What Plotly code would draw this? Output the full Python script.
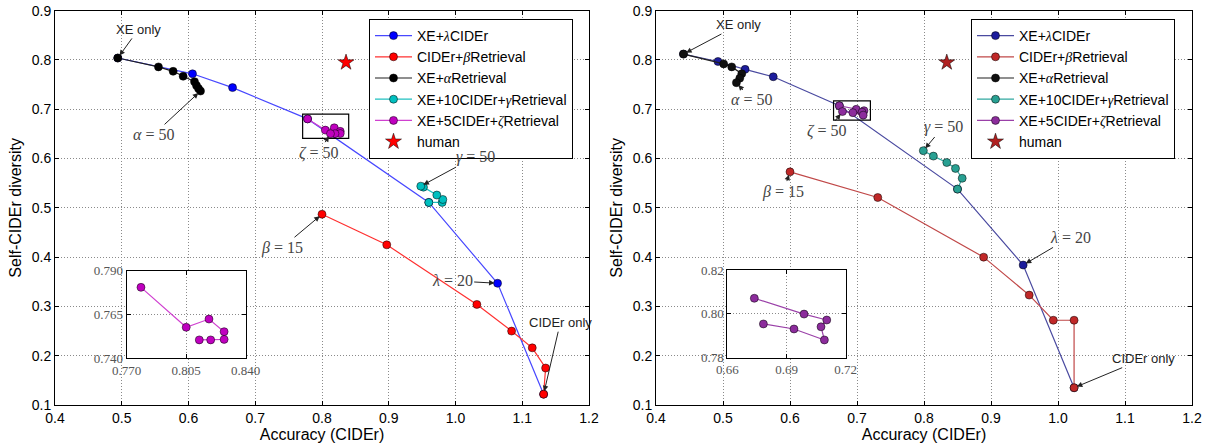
import plotly.graph_objects as go

# ---------------- data: left panel ----------------
L_lambda_x = [0.494, 0.606, 0.666, 0.7784, 0.960, 1.063, 1.132]
L_lambda_y = [0.804, 0.772, 0.744, 0.6805, 0.511, 0.347, 0.122]
L_beta_x = [1.132, 1.135, 1.115, 1.084, 1.032, 0.897, 0.800]
L_beta_y = [0.122, 0.175, 0.216, 0.250, 0.304, 0.425, 0.487]
L_alpha_x = [0.494, 0.555, 0.577, 0.592, 0.609, 0.612, 0.615, 0.618]
L_alpha_y = [0.804, 0.786, 0.777, 0.767, 0.756, 0.748, 0.742, 0.737]
L_gamma_x = [0.960, 0.980, 0.981, 0.972, 0.952, 0.948]
L_gamma_y = [0.511, 0.511, 0.517, 0.526, 0.542, 0.544]
L_zeta_x = [0.7784, 0.8050, 0.8184, 0.8273, 0.8273, 0.8194, 0.8127]
L_zeta_y = [0.6805, 0.6577, 0.6624, 0.6552, 0.6508, 0.6505, 0.6505]
L_human_x = [0.836]
L_human_y = [0.795]
# zoomed view of the zeta sweep
L_inset_x = [0.7784, 0.8050, 0.8184, 0.8273, 0.8273, 0.8194, 0.8127]
L_inset_y = [0.7805, 0.7577, 0.7624, 0.7552, 0.7508, 0.7505, 0.7505]
L_inset_xticks = [0.770, 0.805, 0.840]
L_inset_yticks = [0.740, 0.765, 0.790]
L_zoom_box = (0.771, 0.840, 0.641, 0.690)

# ---------------- data: right panel ----------------
R_lambda_x = [0.441, 0.4925, 0.533, 0.575, 0.6737, 0.850, 0.948, 1.024]
R_lambda_y = [0.812, 0.797, 0.781, 0.766, 0.7071, 0.538, 0.384, 0.135]
R_beta_x = [1.024, 1.024, 0.993, 0.957, 0.889, 0.731, 0.600]
R_beta_y = [0.135, 0.272, 0.272, 0.323, 0.400, 0.521, 0.573]
R_alpha_x = [0.441, 0.501, 0.513, 0.528, 0.525, 0.520]
R_alpha_y = [0.812, 0.792, 0.786, 0.772, 0.763, 0.754]
R_gamma_x = [0.850, 0.857, 0.847, 0.834, 0.814, 0.799]
R_gamma_y = [0.538, 0.560, 0.580, 0.592, 0.605, 0.616]
R_zeta_x = [0.6737, 0.6989, 0.7104, 0.7075, 0.7092, 0.6938, 0.6783]
R_zeta_y = [0.7071, 0.6999, 0.6972, 0.6941, 0.6881, 0.6931, 0.6954]
R_human_x = [0.834]
R_human_y = [0.795]
R_inset_x = [0.6737, 0.6989, 0.7104, 0.7075, 0.7092, 0.6938, 0.6783]
R_inset_y = [0.8071, 0.7999, 0.7972, 0.7941, 0.7881, 0.7931, 0.7954]
R_inset_xticks = [0.66, 0.69, 0.72]
R_inset_yticks = [0.78, 0.80, 0.82]
R_zoom_box = (0.665, 0.720, 0.678, 0.717)

main_ticks = [0.4, 0.5, 0.6, 0.7, 0.8, 0.9, 1.0, 1.1, 1.2]
main_yticks = [0.1, 0.2, 0.3, 0.4, 0.5, 0.6, 0.7, 0.8, 0.9]

SANS = "Liberation Sans"
SERIF = "Liberation Serif"


def greek(ch):
    return f'<span style="font-family:{SERIF}"><i>{ch}</i></span>'


names = [
    "XE+" + greek("λ") + "CIDEr",
    "CIDEr+" + greek("β") + "Retrieval",
    "XE+" + greek("α") + "Retrieval",
    "XE+10CIDEr+" + greek("γ") + "Retrieval",
    "XE+5CIDEr+" + greek("ζ") + "Retrieval",
    "human",
]

left_colors = dict(line=["#4848ff", "#ff3030", "#202020", "#20c0c0", "#d040d0"],
                   mark=["#0000ff", "#ff0000", "#000000", "#00bfbf", "#bf00bf"],
                   star="#ff0000")
right_colors = dict(line=["#4a4aa0", "#c04848", "#202020", "#30a8a0", "#9a40a8"],
                    mark=["#1c1c9c", "#c02828", "#101010", "#28a092", "#8c2c9c"],
                    star="#b02020")

fig = go.Figure()


def add_panel(series, human, colors, xa, ya, legend):
    for i, (xs, ys) in enumerate(series):
        fig.add_trace(go.Scatter(
            x=xs, y=ys, mode="lines+markers", name=names[i],
            xaxis=xa, yaxis=ya, legend=legend,
            line=dict(color=colors["line"][i], width=1.2),
            marker=dict(color=colors["mark"][i], size=8,
                        line=dict(color="#000000", width=0.5)),
        ))
    fig.add_trace(go.Scatter(
        x=human[0], y=human[1], mode="markers", name=names[5],
        xaxis=xa, yaxis=ya, legend=legend,
        marker=dict(symbol="star", color=colors["star"], size=12,
                    line=dict(color="#000000", width=0.5)),
    ))


add_panel([(L_lambda_x, L_lambda_y), (L_beta_x, L_beta_y), (L_alpha_x, L_alpha_y),
           (L_gamma_x, L_gamma_y), (L_zeta_x, L_zeta_y)],
          (L_human_x, L_human_y), left_colors, "x", "y", "legend")
add_panel([(R_lambda_x, R_lambda_y), (R_beta_x, R_beta_y), (R_alpha_x, R_alpha_y),
           (R_gamma_x, R_gamma_y), (R_zeta_x, R_zeta_y)],
          (R_human_x, R_human_y), right_colors, "x2", "y2", "legend2")

# inset traces
fig.add_trace(go.Scatter(x=L_inset_x, y=L_inset_y, mode="lines+markers", showlegend=False,
                         xaxis="x3", yaxis="y3",
                         line=dict(color=left_colors["line"][4], width=1.2),
                         marker=dict(color=left_colors["mark"][4], size=8,
                                     line=dict(color="#000000", width=0.5))))
fig.add_trace(go.Scatter(x=R_inset_x, y=R_inset_y, mode="lines+markers", showlegend=False,
                         xaxis="x4", yaxis="y4",
                         line=dict(color=right_colors["line"][4], width=1.2),
                         marker=dict(color=right_colors["mark"][4], size=8,
                                     line=dict(color="#000000", width=0.5))))

W, H = 1205, 444
GRID = dict(showgrid=True, gridcolor="#8a8a8a", gridwidth=1, griddash="1px,2px",
            zeroline=False, showline=True, linecolor="#000000", linewidth=1,
            mirror="allticks", ticks="inside", ticklen=4, tickcolor="#000000",
            automargin=False)


def px_x(a, b):
    return [a / W, b / W]


def px_y(top, bottom):
    return [1 - bottom / H, 1 - top / H]


def main_x(domain, anchor):
    return dict(GRID, domain=domain, anchor=anchor, range=[0.4, 1.2],
                tickvals=main_ticks, tickformat=".1f",
                tickfont=dict(family=SANS, size=14, color="#000000"),
                title=dict(text="Accuracy (CIDEr)", standoff=4,
                           font=dict(family=SANS, size=16, color="#000000")))


def main_y(domain, anchor):
    return dict(GRID, domain=domain, anchor=anchor, range=[0.1, 0.9],
                tickvals=main_yticks, tickformat=".1f",
                tickfont=dict(family=SANS, size=14, color="#000000"),
                title=dict(text="Self-CIDEr diversity", standoff=6,
                           font=dict(family=SANS, size=16, color="#000000")))


def inset_axis(domain, anchor, rng, ticks, fmt):
    return dict(GRID, domain=domain, anchor=anchor, range=rng, tickvals=ticks,
                tickformat=fmt,
                tickfont=dict(family=SERIF, size=13, color="#555555"))


main_ydom = px_y(10.7, 405)
fig.update_layout(
    xaxis=main_x(px_x(55, 589), "y"),
    yaxis=main_y(main_ydom, "x"),
    xaxis2=main_x(px_x(656, 1192), "y2"),
    yaxis2=main_y(main_ydom, "x2"),
    xaxis3=inset_axis(px_x(126.7, 245.7), "y3", [0.770, 0.840], L_inset_xticks, ".3f"),
    yaxis3=inset_axis(px_y(270.7, 358.3), "x3", [0.740, 0.790], L_inset_yticks, ".3f"),
    xaxis4=inset_axis(px_x(727.3, 845.7), "y4", [0.66, 0.72], R_inset_xticks, ".2f"),
    yaxis4=inset_axis(px_y(270, 357.7), "x4", [0.78, 0.82], R_inset_yticks, ".2f"),
)

legend_style = dict(xanchor="left", yanchor="top", bgcolor="#ffffff",
                    bordercolor="#000000", borderwidth=1, itemwidth=37,
                    font=dict(family=SANS, size=14, color="#000000"),
                    traceorder="normal")
fig.update_layout(
    legend=dict(legend_style, x=369 / W, y=1 - 19 / H),
    legend2=dict(legend_style, x=971 / W, y=1 - 19 / H),
)

shapes = []
for (x0, x1, y0, y1), xr, yr in [(L_zoom_box, "x", "y"), (R_zoom_box, "x2", "y2")]:
    shapes.append(dict(type="rect", xref=xr, yref=yr, x0=x0, x1=x1, y0=y0, y1=y1,
                       line=dict(color="#000000", width=1.2), fillcolor="rgba(0,0,0,0)"))
# white backing for the insets so the main grid does not show through
for xr, yr, xs, ys in [("x3", "y3", [0.770, 0.840], [0.740, 0.790]),
                       ("x4", "y4", [0.66, 0.72], [0.78, 0.82])]:
    shapes.append(dict(type="rect", xref=xr, yref=yr, x0=xs[0], x1=xs[1], y0=ys[0], y1=ys[1],
                       layer="below", line=dict(width=0), fillcolor="#ffffff"))

# labels with arrows: (text, text x, text y, head x, head y, serif?)
L_labels = [
    ("XE only", 0.525, 0.862, L_alpha_x[0], L_alpha_y[0], False),
    ("<i>α</i> = 50", 0.548, 0.649, L_alpha_x[-1], L_alpha_y[-1], True),
    ("<i>ζ</i> = 50", 0.795, 0.612, L_zeta_x[-1], L_zeta_y[-1], True),
    ("<i>γ</i> = 50", 1.030, 0.604, L_gamma_x[-1], L_gamma_y[-1], True),
    ("<i>β</i> = 15", 0.740, 0.419, L_beta_x[-1], L_beta_y[-1], True),
    ("<i>λ</i> = 20", 0.995, 0.352, L_lambda_x[5], L_lambda_y[5], True),
    ("CIDEr only", 1.157, 0.267, L_beta_x[0], L_beta_y[0], False),
]
R_labels = [
    ("XE only", 0.523, 0.871, R_alpha_x[0], R_alpha_y[0], False),
    ("<i>α</i> = 50", 0.543, 0.719, R_alpha_x[-1], R_alpha_y[-1], True),
    ("<i>ζ</i> = 50", 0.655, 0.655, R_zeta_x[-1], R_zeta_y[-1], True),
    ("<i>γ</i> = 50", 0.829, 0.665, R_gamma_x[-1], R_gamma_y[-1], True),
    ("<i>β</i> = 15", 0.590, 0.533, R_beta_x[-1], R_beta_y[-1], True),
    ("<i>λ</i> = 20", 1.018, 0.440, R_lambda_x[6], R_lambda_y[6], True),
    ("CIDEr only", 1.128, 0.194, R_beta_x[0], R_beta_y[0], False),
]

annotations = []
for labels, xr, yr in [(L_labels, "x", "y"), (R_labels, "x2", "y2")]:
    for text, tx, ty, hx, hy, serif in labels:
        annotations.append(dict(
            text=text, x=hx, y=hy, ax=tx, ay=ty, xref=xr, yref=yr, axref=xr, ayref=yr,
            showarrow=True, arrowhead=2, arrowsize=1.1, arrowwidth=1, arrowcolor="#222222",
            standoff=3,
            font=dict(family=SERIF if serif else SANS, size=16 if serif else 13,
                      color="#444444" if serif else "#222222"),
        ))

fig.update_layout(
    width=W, height=H, margin=dict(l=0, r=0, t=0, b=0),
    paper_bgcolor="#ffffff", plot_bgcolor="#ffffff",
    shapes=shapes, annotations=annotations,
)

fig.write_html("out.html")
